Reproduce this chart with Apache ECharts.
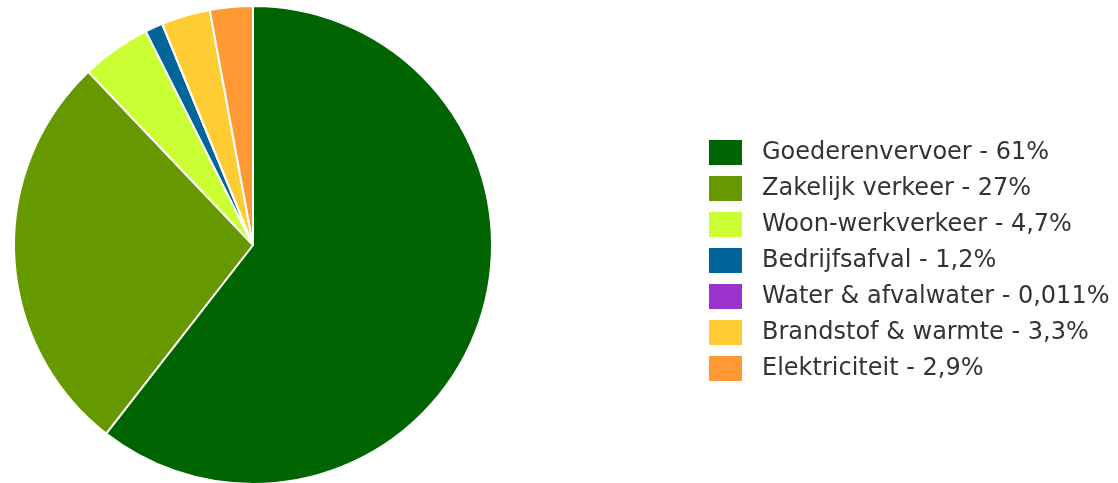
<!DOCTYPE html>
<html>
<head>
<meta charset="utf-8">
<script src="https://cdn.jsdelivr.net/npm/echarts@6/dist/echarts.min.js"></script>
<style>html,body{margin:0;padding:0;background:#fff}#c{width:1118px;height:483px}</style>
</head>
<body>
<div id="c"></div>
<script>
const categories = ['Goederenvervoer', 'Zakelijk verkeer', 'Woon-werkverkeer', 'Bedrijfsafval', 'Water & afvalwater', 'Brandstof & warmte', 'Elektriciteit'];
const values = [60.6, 27.4, 4.7, 1.2, 0.011, 3.3, 2.9];
const valueLabels = ['61%', '27%', '4,7%', '1,2%', '0,011%', '3,3%', '2,9%'];
const colors = ['#006400', '#669900', '#ccff33', '#006699', '#9933cc', '#ffcc33', '#ff9933'];

const chart = echarts.init(document.getElementById('c'));
chart.setOption({
  animation: false,
  color: colors,
  legend: {
    orient: 'vertical',
    left: 709,
    top: 140,
    padding: 0,
    itemWidth: 33,
    itemHeight: 25,
    itemGap: 11,
    icon: 'rect',
    itemStyle: { borderWidth: 0 },
    formatter: function (name) {
      const i = categories.indexOf(name);
      return name + ' - ' + valueLabels[i];
    },
    textStyle: { fontFamily: 'DejaVu Sans', fontSize: 24, lineHeight: 25, color: '#333', padding: [0, 0, 0, 15] },
    data: categories
  },
  series: [{
    type: 'pie',
    center: [253, 245],
    radius: 239,
    startAngle: 90,
    clockwise: true,
    label: { show: false },
    labelLine: { show: false },
    itemStyle: { borderColor: '#fff', borderWidth: 2 },
    emphasis: { disabled: true },
    data: categories.map((n, i) => ({ name: n, value: values[i] }))
  }]
});
</script>
</body>
</html>
